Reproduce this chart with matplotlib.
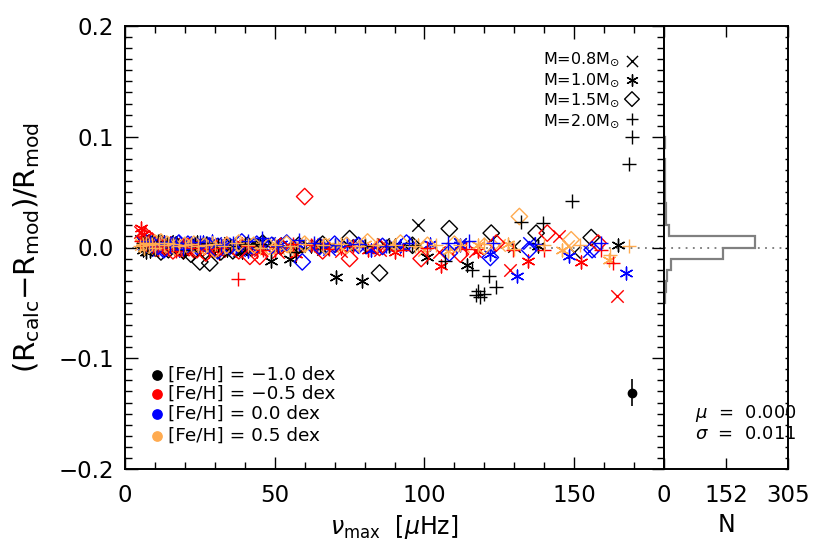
import matplotlib
matplotlib.use('Agg')
import matplotlib.pyplot as plt
from matplotlib.ticker import MultipleLocator

plt.rcParams['font.family'] = ['DejaVu Sans']
plt.rcParams['mathtext.fontset'] = 'dejavusans'

# ---------------- data ----------------
mass_labels = ['M=0.8M$_{\\odot}$', 'M=1.0M$_{\\odot}$', 'M=1.5M$_{\\odot}$', 'M=2.0M$_{\\odot}$']
feh_labels = ['[Fe/H] = \u22121.0 dex', '[Fe/H] = \u22120.5 dex', '[Fe/H] = 0.0 dex', '[Fe/H] = 0.5 dex']
feh_colors = ['black', '#ff0000', '#0000ff', '#ffab50']

# M = 0.8 Msun (x)
nu_08_m10 = [5.5, 6.5, 8, 9.5, 11, 12.5, 14, 16, 18, 21, 24, 27, 31, 35, 40, 45, 51, 58, 66, 74, 86, 98, 112, 130, 150]
dv_08_m10 = [0.006, 0.002, -0.002, 0.005, 0.004, 0.001, 0.006, 0.003, 0.001, -0.003, 0.002, 0.003, 0.0, 0.004, -0.002, 0.003, 0.004, 0.001, -0.001, 0.002, 0.003, 0.020, 0.003, 0.001, -0.004]
nu_08_m05 = [5, 6, 7.5, 9, 10.5, 12, 14, 16, 18.5, 21, 24, 27.5, 31, 35, 40, 45, 51, 57, 64, 72, 85, 105, 117, 128.6, 145, 164.3]
dv_08_m05 = [0.014, 0.010, 0.006, 0.002, 0.005, -0.002, 0.001, 0.003, -0.001, -0.004, 0.002, -0.003, 0.002, -0.003, 0.001, -0.002, -0.004, 0.001, 0.002, -0.003, -0.002, -0.004, -0.003, -0.020, 0.010, -0.044]
nu_08_p00 = [6, 7.5, 9, 11, 13, 15, 17.5, 20, 23, 26, 30, 34, 38, 43, 48, 54, 60, 68, 78, 90, 112, 135, 155]
dv_08_p00 = [0.004, 0.002, 0.001, -0.002, 0.003, 0.004, 0.002, 0.005, 0.001, 0.0, 0.004, 0.002, -0.002, 0.003, 0.004, 0.002, 0.001, -0.001, 0.002, 0.001, 0.003, 0.004, -0.003]
nu_08_p05 = [5.5, 7, 8.5, 10, 12, 14, 16, 18.5, 21, 24, 27, 31, 35, 40, 45, 51, 58, 66, 76, 88, 100, 113, 125, 148]
dv_08_p05 = [0.003, 0.005, 0.006, 0.002, 0.001, 0.003, -0.001, 0.002, 0.002, 0.004, 0.003, -0.001, 0.002, 0.003, 0.001, 0.0, 0.002, 0.003, 0.001, 0.002, -0.002, 0.001, 0.002, 0.001]

# M = 1.0 Msun (asterisk)
nu_10_m10 = [6, 7, 8.5, 10, 11.5, 13, 15, 17, 19, 21.5, 24, 27, 30, 34, 39, 44, 48.7, 55, 62, 70.3, 79.3, 90, 101, 114.3, 138, 164.8]
dv_10_m10 = [-0.002, -0.004, -0.003, 0.004, 0.006, 0.005, 0.002, 0.004, -0.002, 0.001, 0.005, 0.002, 0.001, -0.002, -0.004, 0.001, -0.012, -0.010, 0.001, -0.027, -0.030, 0.002, -0.009, -0.016, 0.001, 0.002]
nu_10_m05 = [5.5, 6.5, 8, 9.5, 11, 13, 15, 17, 19.5, 22, 25, 28, 31.5, 35, 39, 44, 50, 57, 64, 72, 81, 90, 105.6, 118, 134.7, 152.4]
dv_10_m05 = [0.018, 0.012, 0.006, 0.002, -0.002, 0.001, 0.004, -0.002, -0.004, 0.002, 0.0, -0.003, -0.005, 0.001, 0.003, -0.003, -0.002, -0.006, 0.001, 0.0, -0.002, -0.004, -0.017, -0.003, -0.012, -0.013]
nu_10_p00 = [7, 8.5, 10, 12, 14, 16, 18, 20.5, 23, 26, 29, 33, 37, 41, 46, 52, 58, 66, 74, 82, 92, 102, 112, 122, 131, 148.3, 167.4]
dv_10_p00 = [0.002, 0.004, 0.005, 0.003, 0.001, 0.004, -0.002, 0.002, 0.003, 0.005, 0.006, 0.002, 0.0, -0.003, 0.004, 0.003, 0.002, 0.001, 0.003, -0.002, 0.001, 0.003, 0.002, -0.006, -0.026, -0.008, -0.023]
nu_10_p05 = [5.5, 6.5, 7.5, 9, 10.5, 12, 13.5, 15, 17, 19, 21, 23.5, 26, 29, 32, 36, 40, 45, 50, 56, 63, 71, 80, 88, 98, 108, 118, 128, 146, 161.7]
dv_10_p05 = [0.004, 0.0, 0.002, 0.003, 0.005, 0.004, 0.002, 0.002, 0.003, -0.001, 0.001, 0.003, 0.001, 0.004, 0.002, 0.0, 0.003, 0.002, 0.001, -0.001, 0.002, 0.001, 0.003, 0.001, 0.002, -0.003, 0.002, 0.003, -0.002, -0.011]

# M = 1.5 Msun (diamond)
nu_15_m10 = [8, 10, 12, 14.5, 17, 19.5, 22, 25, 28.3, 32, 36, 41, 46, 52, 58, 66, 75, 85, 96, 108.3, 122.3, 137.3, 155.7]
dv_15_m10 = [0.004, 0.001, -0.004, -0.002, 0.002, -0.003, -0.006, -0.013, -0.014, -0.004, -0.003, 0.002, 0.004, 0.001, 0.002, 0.003, 0.008, -0.023, 0.002, 0.017, 0.013, 0.013, 0.009]
nu_15_m05 = [7, 9, 11, 13.5, 16, 18.5, 21, 24, 27, 30.5, 34, 38, 41.7, 45, 52, 60, 66, 75, 85, 98.9, 112, 124, 141, 158]
dv_15_m05 = [0.010, 0.006, 0.002, 0.0, -0.003, -0.001, 0.001, -0.002, -0.005, -0.001, 0.002, -0.003, -0.008, -0.008, 0.001, 0.046, -0.003, -0.010, 0.0, -0.010, -0.006, 0.004, 0.013, 0.004]
nu_15_p00 = [9, 11, 13, 15.5, 18, 21, 24, 27.5, 31, 35, 39, 44, 49, 54, 59.2, 65, 70, 78, 86, 94, 108.3, 122, 135, 156]
dv_15_p00 = [0.003, 0.001, -0.002, 0.002, 0.004, 0.003, 0.001, 0.002, -0.003, 0.001, 0.005, 0.003, 0.002, 0.004, -0.013, 0.001, 0.003, 0.002, 0.001, 0.004, -0.005, -0.009, -0.002, -0.002]
nu_15_p05 = [8, 10, 12, 14, 17, 20, 23, 26.5, 30, 34, 38, 43, 48, 54, 60, 67, 74, 81, 92, 101, 110, 120, 131.7, 149]
dv_15_p05 = [0.002, 0.004, 0.005, 0.003, 0.0, 0.002, 0.003, 0.001, -0.002, 0.002, 0.004, 0.002, 0.001, 0.003, 0.003, 0.001, 0.002, 0.005, 0.004, 0.002, 0.003, 0.001, 0.028, 0.007]

# M = 2.0 Msun (plus)
nu_20_m10 = [6, 7.5, 9, 11, 14, 17, 20, 23.5, 27, 31, 35, 40, 45, 51, 57, 65, 70, 80, 88, 96, 106.7, 116, 117.3, 117.8, 118.7, 120, 121.7, 124, 132.3, 139.7, 149.3, 168.3, 169.3]
dv_20_m10 = [0.004, 0.002, 0.005, 0.006, 0.003, 0.004, -0.002, 0.003, 0.004, 0.002, 0.001, 0.003, 0.003, 0.001, -0.004, 0.002, 0.002, 0.001, 0.001, 0.002, -0.012, -0.020, -0.043, -0.039, -0.045, -0.042, -0.026, -0.036, 0.023, 0.022, 0.042, 0.075, 0.100]
nu_20_m05 = [5.5, 7, 8, 9.5, 11, 12.5, 14.5, 17, 19.5, 22, 25, 28, 32, 37.7, 41, 46, 51, 56, 62, 68, 76, 84, 93, 101, 114, 129.7, 140, 159, 163]
dv_20_m05 = [0.006, 0.003, 0.004, 0.001, 0.002, 0.001, -0.001, -0.003, 0.002, 0.0, 0.002, -0.001, 0.0, -0.028, 0.001, -0.002, 0.001, 0.003, 0.002, -0.001, 0.001, 0.002, -0.002, 0.0, -0.001, -0.002, -0.002, -0.002, -0.014]
nu_20_p00 = [7, 8.5, 10, 11.5, 13, 15, 17, 19.5, 22, 25, 28, 32, 36, 41, 45.6, 51, 58, 63, 70, 78, 87, 94.7, 108, 115, 123, 137, 159]
dv_20_p00 = [0.006, 0.004, 0.002, 0.003, 0.005, 0.002, 0.004, -0.001, 0.003, 0.005, 0.002, 0.002, 0.004, 0.006, 0.009, 0.001, 0.007, 0.004, 0.002, 0.003, 0.001, 0.004, 0.004, 0.006, 0.004, 0.003, 0.004]
nu_20_p05 = [5, 6, 7, 8, 9, 10, 11.5, 13, 14.5, 16, 18, 20, 22, 24.5, 27, 30, 33, 37, 41, 45, 50, 55, 60, 66, 72, 78, 84, 90, 97, 104, 112, 120, 130, 140, 152, 162, 168.3]
dv_20_p05 = [0.001, 0.003, 0.004, 0.002, 0.003, 0.0, 0.004, 0.002, 0.004, 0.003, 0.001, 0.002, 0.003, 0.001, 0.002, 0.003, 0.001, 0.004, 0.002, 0.0, 0.002, 0.001, 0.003, 0.002, 0.003, 0.001, 0.002, 0.002, 0.001, 0.002, 0.002, 0.003, -0.001, 0.002, 0.002, -0.007, 0.001]

series = [
    [(nu_08_m10, dv_08_m10), (nu_08_m05, dv_08_m05), (nu_08_p00, dv_08_p00), (nu_08_p05, dv_08_p05)],
    [(nu_10_m10, dv_10_m10), (nu_10_m05, dv_10_m05), (nu_10_p00, dv_10_p00), (nu_10_p05, dv_10_p05)],
    [(nu_15_m10, dv_15_m10), (nu_15_m05, dv_15_m05), (nu_15_p00, dv_15_p00), (nu_15_p05, dv_15_p05)],
    [(nu_20_m10, dv_20_m10), (nu_20_m05, dv_20_m05), (nu_20_p00, dv_20_p00), (nu_20_p05, dv_20_p05)],
]

# histogram of deviations
hist_edges = [-0.05, -0.04, -0.03, -0.02, -0.01, 0.0, 0.01, 0.02, 0.03, 0.04, 0.05, 0.06, 0.07, 0.08, 0.09, 0.10, 0.11]
hist_counts = [3, 5, 8, 17, 144, 223, 12, 6, 4, 3, 2, 2, 2, 1, 2, 1]

# typical error bar point
err_nu = [169.3]
err_dv = [-0.131]
err_sig = [0.012]

mu_text = '$\\mu$  =  0.000'
sigma_text = '$\\sigma$  =  0.011'

# ---------------- styling ----------------
markers = ['x', (6, 2, 0), 'D', '+']
msizes = [80, 85, 70, 95]

W, H = 830, 553
fig = plt.figure(figsize=(W / 100, H / 100), dpi=100)
ax = fig.add_axes([125 / W, 1 - 469 / H, 539 / W, 443 / H])
axh = fig.add_axes([664 / W, 1 - 469 / H, 124 / W, 443 / H])

for mi, mass_group in enumerate(series):
    for fi, (nu, dv) in enumerate(mass_group):
        col = feh_colors[fi]
        if markers[mi] == 'D':
            ax.scatter(nu, dv, marker='D', s=msizes[mi], facecolors='none',
                       edgecolors=col, linewidths=1.0, zorder=3)
        else:
            ax.scatter(nu, dv, marker=markers[mi], s=msizes[mi], color=col,
                       linewidths=1.0, zorder=3)

ax.errorbar(err_nu, err_dv, yerr=err_sig, fmt='o', color='black', ms=6,
            elinewidth=1.2, capsize=0, zorder=4)

ax.axhline(0, color='#777777', lw=1.3, ls=(0, (1, 3)), zorder=1)
axh.axhline(0, color='#777777', lw=1.3, ls=(0, (1, 3)), zorder=1)

ax.set_xlim(0, 180)
ax.set_ylim(-0.2, 0.2)
ax.xaxis.set_major_locator(MultipleLocator(50))
ax.xaxis.set_minor_locator(MultipleLocator(10))
ax.yaxis.set_minor_locator(MultipleLocator(0.01))
ax.set_yticks([-0.2, -0.1, 0.0, 0.1, 0.2])
ax.set_yticklabels(['\u22120.2', '\u22120.1', '0.0', '0.1', '0.2'])
ax.tick_params(which='both', direction='in', top=True, right=True, width=1.0,
               labelsize=16.5, color='black')
ax.tick_params(which='major', length=9)
ax.tick_params(which='minor', length=5)
ax.tick_params(axis='x', pad=11)
ax.tick_params(axis='y', pad=8)
for sp in ax.spines.values():
    sp.set_linewidth(1.4)

ax.set_xlabel('$\\nu_{\\mathrm{max}}$  [$\\mu$Hz]', fontsize=17, labelpad=4)
ax.set_ylabel('(R$_{\\mathrm{calc}}$\u2212R$_{\\mathrm{mod}}$)/R$_{\\mathrm{mod}}$',
              fontsize=21, labelpad=12)

# mass legend (top right)
leg_y = [0.170, 0.1515, 0.133, 0.1145]
mark_y = [0.168, 0.151, 0.134, 0.116]
for i, lab in enumerate(mass_labels):
    ax.text(0.918, leg_y[i], lab, transform=ax.get_yaxis_transform(), fontsize=11.5,
            ha='right', va='center')
    ax.scatter([169.3], [mark_y[i]], marker=markers[i], s=msizes[i] * 0.8,
               facecolors='none' if markers[i] == 'D' else 'black',
               edgecolors='black', linewidths=1.0, zorder=3)

# metallicity legend (bottom left)
feh_y = [-0.115, -0.132, -0.150, -0.170]
for i, lab in enumerate(feh_labels):
    ax.scatter([10.7], [feh_y[i]], marker='o', s=45, color=feh_colors[i], zorder=3)
    ax.text(14.4, feh_y[i], lab, fontsize=13.3, ha='left', va='center')

# histogram panel
axh.stairs(hist_counts, hist_edges, orientation='horizontal', color='#808080',
           lw=1.6, baseline=0)
axh.set_xlim(0, 305)
axh.set_ylim(-0.2, 0.2)
axh.set_xticks([0, 152.5, 305])
axh.set_xticklabels(['0', '152', '305'])
axh.yaxis.set_major_locator(MultipleLocator(0.1))
axh.yaxis.set_minor_locator(MultipleLocator(0.01))
axh.tick_params(axis='y', which='both', direction='in', left=False, right=True,
                labelleft=False, length=2, width=1.0)
axh.tick_params(axis='x', which='both', direction='in', top=True, bottom=True,
                length=8, width=1.0, labelsize=16.5, pad=11)
for sp in axh.spines.values():
    sp.set_linewidth(1.4)
    sp.set_zorder(5)
axh.set_xlabel('N', fontsize=17, labelpad=4)
axh.text(0.25, -0.150, mu_text, fontsize=13, ha='left', va='center',
         transform=axh.get_yaxis_transform(), clip_on=False, zorder=2)
axh.text(0.25, -0.168, sigma_text, fontsize=13, ha='left', va='center',
         transform=axh.get_yaxis_transform(), clip_on=False, zorder=2)

fig.savefig('out.png', dpi=100)
